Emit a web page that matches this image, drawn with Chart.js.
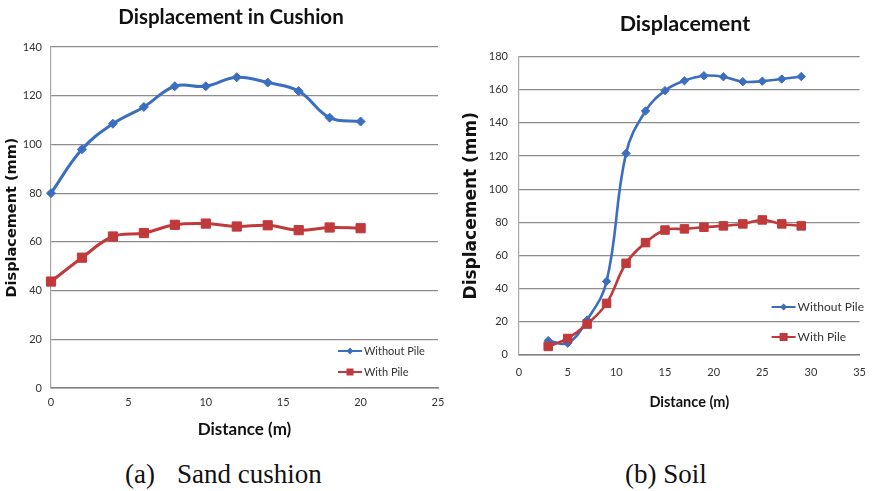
<!DOCTYPE html>
<html>
<head>
<meta charset="utf-8">
<script src="https://cdn.jsdelivr.net/npm/chart.js@4.4.0/dist/chart.umd.min.js"></script>
<style>
  html, body { margin: 0; padding: 0; background: #fff; }
  body { width: 877px; height: 491px; position: relative; overflow: hidden; }
  canvas { position: absolute; top: 0; }
  #cushion { left: 0; }
  #soil { left: 440px; }
  .cap { position: absolute; top: 461px; font-family: 'Liberation Serif', 'Times New Roman', serif;
         font-size: 27px; line-height: 1; color: #111; white-space: nowrap; }
</style>
</head>
<body>
<canvas id="cushion" width="460" height="445"></canvas>
<canvas id="soil" width="437" height="420"></canvas>
<span class="cap" style="left:125px">(a)</span>
<span class="cap" style="left:177px">Sand cushion</span>
<span class="cap" style="left:625px">(b) Soil</span>

<script>
// Measured settlement along the section, sand cushion layer
const cushionDistance    = [0, 2, 4, 6, 8, 10, 12, 14, 16, 18, 20];
const cushionWithoutPile = [80, 98, 108.5, 115.4, 123.9, 123.9, 127.6, 125.4, 121.9, 111, 109.4];
const cushionWithPile    = [43.7, 53.5, 62.2, 63.6, 67, 67.5, 66.3, 66.8, 64.8, 65.9, 65.6];

// Measured settlement along the section, soil layer
const soilDistance    = [3, 5, 7, 9, 11, 13, 15, 17, 19, 21, 23, 25, 27, 29];
const soilWithoutPile = [8.5, 7, 21, 44.3, 121.6, 147.2, 159.5, 165.5, 168.5, 167.9, 164.9, 165.2, 166.5, 168];
const soilWithPile    = [5, 9.8, 18.5, 31, 55.2, 67.7, 75.3, 76, 77, 77.8, 79, 81.4, 79, 77.8];

const seriesNames = ['Without Pile', 'With Pile'];
const chartTitles = ['Displacement in Cushion', 'Displacement'];
const xAxisTitle = 'Distance (m)';
const yAxisTitle = 'Displacement (mm)';

const LATO = "Lato, 'Open Sans', sans-serif";
const WIDE = "'DejaVu Sans', Verdana, sans-serif";
const TICK_SIZE = 11;
const BLUE = '#3c6ebf';
const RED  = '#c0393b';

// Width of the widest y tick label, so mirrored labels can sit right-aligned left of the axis
function widestTick(max, step) {
  const ctx = document.createElement('canvas').getContext('2d');
  ctx.font = TICK_SIZE + 'px ' + LATO;
  let w = 0;
  for (let v = 0; v <= max; v += step) w = Math.max(w, ctx.measureText(String(v)).width);
  return w;
}

// Legend drawn inside the plot area, lower right corner
const insideLegend = {
  id: 'insideLegend',
  afterDraw(chart, args, opts) {
    const { ctx, chartArea } = chart;
    ctx.save();
    chart.data.datasets.forEach((ds, i) => {
      const x0 = chartArea.right - opts.dx;
      const y = chartArea.bottom - opts.dy[i];
      const xm = x0 + opts.lineLen / 2;
      ctx.strokeStyle = ds.borderColor;
      ctx.fillStyle = ds.borderColor;
      ctx.lineWidth = 2;
      ctx.beginPath();
      ctx.moveTo(x0, y);
      ctx.lineTo(x0 + opts.lineLen, y);
      ctx.stroke();
      ctx.beginPath();
      if (ds.pointStyle === 'rectRot') {
        const r = opts.diamond;
        ctx.moveTo(xm, y - r); ctx.lineTo(xm + r, y); ctx.lineTo(xm, y + r); ctx.lineTo(xm - r, y);
        ctx.closePath();
      } else {
        const h = opts.square;
        ctx.rect(xm - h, y - h, 2 * h, 2 * h);
      }
      ctx.fill();
      ctx.fillStyle = '#333';
      ctx.font = opts.fontSize + 'px ' + LATO;
      ctx.textAlign = 'left';
      ctx.textBaseline = 'middle';
      ctx.fillText(ds.label, x0 + opts.lineLen + 2, y);
    });
    ctx.restore();
  }
};

function series(xs, ys) {
  return xs.map((x, i) => ({ x: x, y: ys[i] }));
}

function buildConfig(p) {
  const yLabelShift = -(p.yTickGap + widestTick(p.yMax, 20));
  return {
    type: 'line',
    data: {
      datasets: [
        {
          label: seriesNames[0], data: series(p.x, p.without),
          borderColor: BLUE, backgroundColor: BLUE, borderWidth: p.lineWidth,
          pointStyle: 'rectRot', pointRadius: p.diamond, pointBorderWidth: 1,
          pointBorderColor: BLUE, pointBackgroundColor: BLUE,
          tension: 0.4, order: 1, clip: false
        },
        {
          label: seriesNames[1], data: series(p.x, p.withPile),
          borderColor: RED, backgroundColor: RED, borderWidth: p.lineWidth,
          pointStyle: 'rect', pointRadius: p.square, pointBorderWidth: 1,
          pointBorderColor: RED, pointBackgroundColor: RED,
          tension: 0.4, order: 0, clip: false
        }
      ]
    },
    options: {
      responsive: false,
      animation: false,
      devicePixelRatio: 1,
      layout: { padding: p.padding },
      plugins: {
        legend: { display: false },
        tooltip: { enabled: false },
        title: {
          display: true, text: p.title, color: '#111',
          font: { family: LATO, size: p.titleSize, weight: 'bold' },
          padding: p.titlePad
        },
        insideLegend: p.legend
      },
      scales: {
        x: {
          type: 'linear', min: 0, max: p.xMax,
          ticks: { stepSize: 5, padding: p.xTickPad, color: '#333', font: { family: LATO, size: TICK_SIZE } },
          grid: { display: false, drawTicks: false },
          border: { display: true, color: '#808080', width: 1.5 },
          title: {
            display: true, text: xAxisTitle, color: '#111',
            font: { family: LATO, size: p.xTitleSize, weight: 'bold' },
            padding: { top: 0, bottom: p.xTitlePadB }
          },
          afterFit: s => { s.height = p.xHeight; }
        },
        y: {
          min: 0, max: p.yMax,
          ticks: {
            stepSize: 20, mirror: true, crossAlign: 'far', padding: yLabelShift,
            color: '#333', font: { family: LATO, size: TICK_SIZE }
          },
          grid: { color: '#8c8c8c', lineWidth: 1.2, drawTicks: false },
          border: { display: true, color: '#a6a6a6', width: 1.2 },
          title: {
            display: true, text: yAxisTitle, color: '#111',
            font: { family: WIDE, size: p.yTitleSize, weight: 'bold' },
            padding: { top: p.yTitlePadT, bottom: 0 }
          },
          afterFit: s => { s.width = p.yWidth; }
        }
      }
    },
    plugins: [insideLegend]
  };
}

new Chart(document.getElementById('cushion'), buildConfig({
  x: cushionDistance, without: cushionWithoutPile, withPile: cushionWithPile,
  xMax: 25, yMax: 140, title: chartTitles[0],
  lineWidth: 3, diamond: 4.5, square: 6.5,
  padding: { left: 24, right: 22, top: 0, bottom: 0 },
  titleSize: 20.5, titlePad: { top: 4.7, bottom: 17.7 },
  yWidth: 27, yTickGap: 9, yTitleSize: 14.5, yTitlePadT: -20.2,
  xHeight: 57, xTickPad: 8, xTitleSize: 17, xTitlePadB: 4.8,
  legend: { dx: 100, dy: [37, 16], lineLen: 24, fontSize: 11, diamond: 3.5, square: 3.5 }
}));

new Chart(document.getElementById('soil'), buildConfig({
  x: soilDistance, without: soilWithoutPile, withPile: soilWithPile,
  xMax: 35, yMax: 180, title: chartTitles[1],
  lineWidth: 2.6, diamond: 4.2, square: 6,
  padding: { left: 61, right: 8, top: 0, bottom: 0 },
  titleSize: 21.5, titlePad: { top: 11.1, bottom: 19.8 },
  yWidth: 18, yTickGap: 11, yTitleSize: 17, yTitlePadT: -39.2,
  xHeight: 65.3, xTickPad: 11, xTitleSize: 14.5, xTitlePadB: 9,
  legend: { dx: 88, dy: [47.7, 17.7], lineLen: 24, fontSize: 12, diamond: 3.5, square: 4 }
}));
</script>
</body>
</html>
